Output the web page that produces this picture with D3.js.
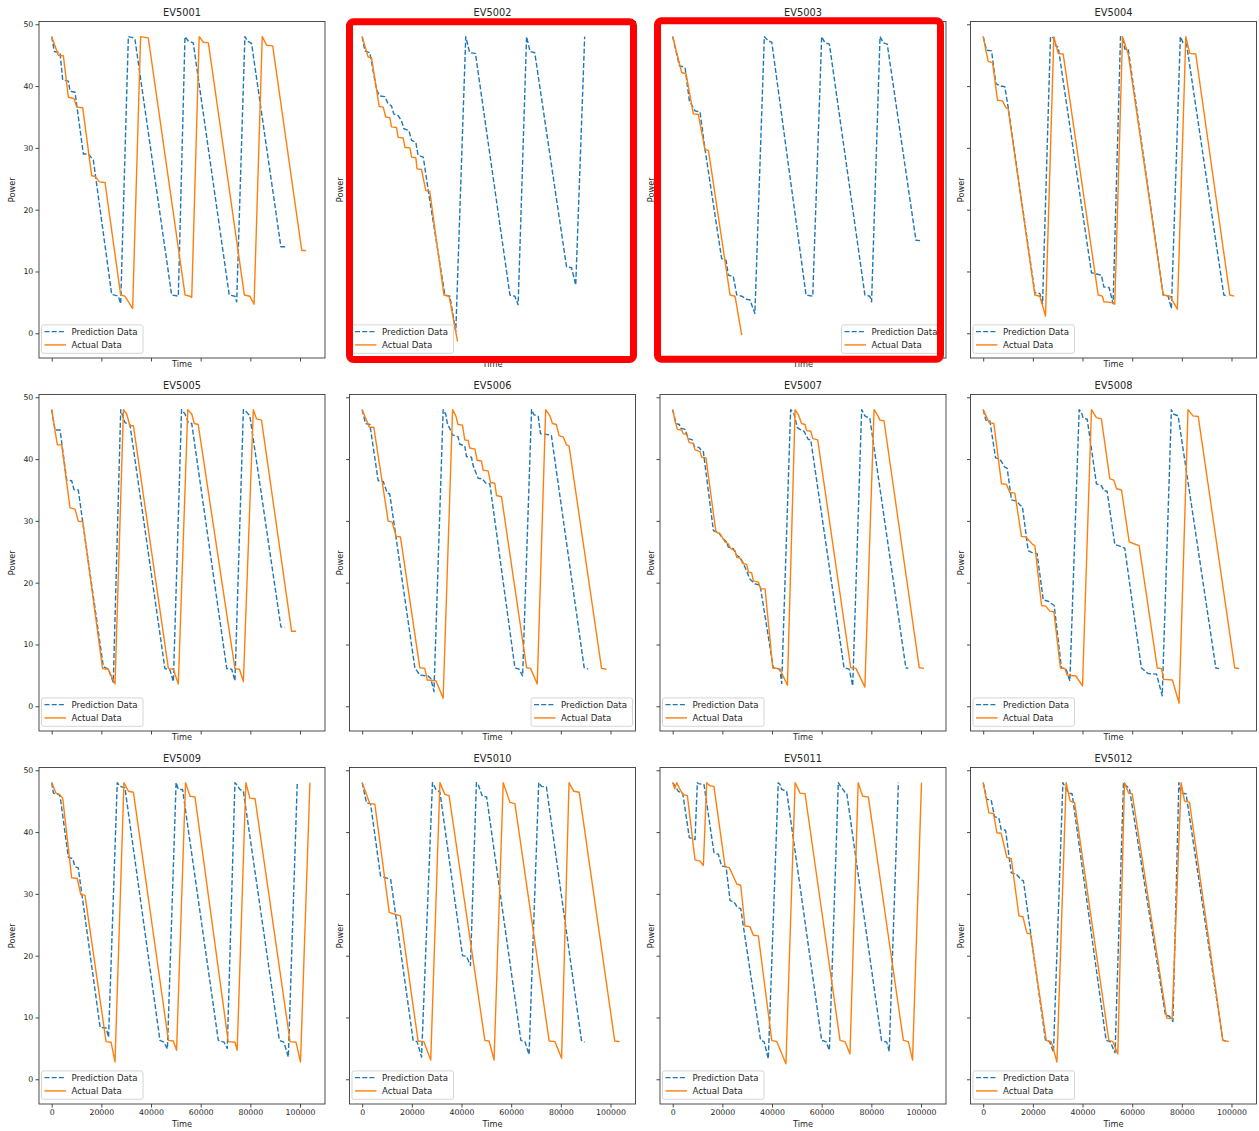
<!DOCTYPE html>
<html><head><meta charset="utf-8">
<script src="https://cdn.jsdelivr.net/npm/d3@7"></script>
<style>
body{margin:0;background:#fff}
svg{display:block}
text{font-family:"DejaVu Sans",sans-serif;fill:#262626}
</style>
</head><body>
<svg id="chart" width="1259" height="1131"></svg>
<script>
// ---------------- data ----------------
const vehicleIds = ["EV5001","EV5002","EV5003","EV5004","EV5005","EV5006","EV5007","EV5008","EV5009","EV5010","EV5011","EV5012"];
const xTicks = [0,20000,40000,60000,80000,100000];
const yTicks = [0,10,20,30,40,50];
const seriesNames = ["Prediction Data","Actual Data"];
const highlighted = ["EV5002","EV5003"];
const legendRight = ["EV5003","EV5006"];

// [time, power]
const pred5001 = [[0,48],[1070,45.6],[3360,45.4],[4430,41.0],[6710,40.8],[7380,39.2],[9390,39.0],[12750,29.0],[14760,29.0],[16780,28.0],[24160,6.3],[26840,6.0],[27780,4.8],[30870,48],[32880,47.8],[33550,47.5],[48310,6.2],[51000,6.0],[53680,48],[55000,47.3],[57000,47.0],[71500,6.2],[73800,6.0],[74500,5.1],[77800,48],[78800,47.3],[80500,46.9],[92300,14.0],[94300,14.0]];
const act5001 = [[0,48],[2680,45.0],[4700,44.9],[6710,38.2],[9000,38.0],[10070,36.6],[12480,36.5],[16100,25.5],[17450,25.4],[19190,24.5],[21470,24.4],[27780,6.2],[29500,6.0],[32600,4.0],[35800,48],[38900,47.8],[53700,6.2],[55700,6.0],[56400,5.8],[59400,48],[61100,47.1],[63100,47.0],[77600,6.2],[79800,6.0],[81500,4.7],[84800,48],[86600,46.6],[89000,46.5],[100700,13.4],[102400,13.4]];

const pred5002 = [[0,48],[1070,45.7],[3090,45.4],[5770,39.4],[7100,38.4],[9100,38.3],[10500,37.1],[11800,36.8],[12700,35.5],[14500,35.2],[15800,34.4],[16800,33.1],[18800,32.8],[19900,31.2],[21600,30.9],[22500,28.8],[24600,28.5],[26600,23.1],[33300,6.2],[35300,6.0],[37700,0.3],[41700,48],[43300,45.4],[45600,45.3],[59500,6.2],[61500,6.0],[62800,4.6],[66200,48],[67600,45.6],[69500,45.4],[82300,10.75],[84300,10.6],[86000,7.8],[89600,48]];
const act5002 = [[0,48],[2400,44.7],[3760,44.6],[6840,36.7],[8450,36.6],[9500,35.0],[11100,34.9],[11800,33.4],[13800,33.3],[14500,31.7],[16500,31.6],[17200,30.1],[19200,30.0],[19900,28.5],[21600,28.4],[22100,26.6],[23900,26.5],[25600,23.1],[27200,23.0],[32900,6.2],[35000,6.0],[38400,-1.3]];

const pred5003 = [[0,48],[2680,43.3],[4970,43.0],[6710,37.6],[8990,36.0],[11000,35.8],[13000,29.8],[19700,12.1],[21500,11.8],[22400,9.4],[24400,9.2],[25800,6.2],[27800,6.0],[29800,5.5],[31100,5.4],[33100,3.2],[36900,48],[38500,47.3],[39900,47.1],[53700,6.2],[56400,6.0],[60000,48],[61300,47.0],[63100,46.8],[77400,6.2],[79400,6.0],[80100,5.1],[83500,48],[84800,47.0],[86400,46.8],[97960,15.05],[99600,15.0]];
const act5003 = [[0,48],[3620,42.2],[5370,42.0],[8320,35.5],[10330,35.4],[13000,29.7],[14400,29.6],[23100,6.2],[25100,6.0],[27800,-0.3]];

const pred5004 = [[0,48],[1340,45.8],[3360,45.7],[5100,40.4],[6710,40.05],[8720,39.9],[10070,36.5],[20800,6.56],[22800,6.45],[23900,4.8],[27100,48],[28200,47.8],[29300,46.5],[30200,46.3],[43600,9.8],[45600,9.6],[47600,9.4],[48600,7.5],[50700,7.4],[52300,4.8],[55300,48],[56400,47.6],[57000,46.0],[58400,46.0],[72500,6.2],[74500,6.0],[75800,4.0],[79400,48],[80500,47.0],[81900,46.8],[96900,6.2],[98600,6.0]];
const act5004 = [[0,48],[2000,44.0],[3760,43.8],[5770,37.7],[7780,37.6],[9130,36.5],[10070,36.3],[20800,6.2],[22800,6.0],[25100,2.8],[28450,48],[30200,45.3],[32200,45.2],[46300,6.2],[48000,6.0],[48600,5.1],[51700,5.0],[53000,4.7],[56100,48],[58400,45.2],[72500,6.2],[75200,6.0],[78200,3.9],[81600,48],[83200,45.3],[85600,45.2],[99300,6.2],[101100,6.0]];

const pred5005 = [[0,48],[1340,44.7],[3360,44.7],[6040,36.6],[8050,36.5],[8990,35.05],[10700,35.0],[12500,29.8],[20800,6.4],[22800,6.0],[24800,3.9],[27800,48],[29500,45.9],[31500,45.6],[45600,6.1],[47600,5.9],[49000,4.0],[52300,48],[53700,47.3],[55000,45.9],[56400,45.75],[70500,6.1],[72500,6.0],[73800,4.1],[77200,48],[78500,47.6],[79800,47.0],[92300,12.85],[93900,12.74]];
const act5005 = [[0,48],[2280,42.3],[4030,42.3],[7380,32.1],[9390,31.9],[10700,29.95],[12500,29.9],[20500,6.1],[22800,6.0],[25500,3.6],[28900,48],[30200,47.3],[31500,45.4],[32900,45.4],[47000,6.1],[49000,6.0],[51000,3.6],[54800,48],[56400,47.3],[57400,45.75],[59000,45.6],[73800,6.1],[75600,6.0],[77200,4.0],[81200,48],[82500,46.5],[84500,46.3],[96600,12.15],[98400,12.15]];

const pred5006 = [[0,48],[1340,45.75],[3090,45.6],[6440,36.5],[8450,36.4],[10070,34.5],[11100,34.35],[21200,6.24],[23200,5.05],[26600,4.9],[27600,4.5],[28900,2.4],[32600,48],[33700,47.2],[34200,45.9],[36400,43.9],[38600,43.6],[39300,42.4],[41300,42.15],[42000,40.4],[44000,40.3],[44700,38.9],[46700,36.9],[48400,36.8],[49800,36.1],[51400,36.0],[61500,6.24],[63200,6.0],[64600,4.9],[68200,48],[69100,47.2],[70900,46.9],[71800,44.1],[74200,44.0],[76200,43.8],[89400,6.24],[91000,6.0]];
const act5006 = [[0,48],[2820,45.2],[4700,45.1],[10470,29.95],[12100,29.8],[13600,27.5],[15400,27.4],[23200,6.24],[25200,6.13],[26200,4.25],[29700,4.14],[32600,1.3],[36400,48],[37700,47.0],[38600,45.6],[40400,45.5],[41300,43.1],[42700,43.0],[43300,41.8],[45400,41.6],[46300,39.8],[48000,39.7],[48700,38.2],[50700,38.1],[51700,36.2],[53400,36.1],[54100,34.1],[56100,33.9],[66200,6.24],[67800,6.13],[70500,3.6],[73900,48],[75600,47.0],[76600,45.75],[78200,45.6],[79300,43.8],[80900,43.6],[82300,42.3],[83300,42.15],[96400,6.13],[98400,6.0]];

const pred5007 = [[0,48],[1340,45.75],[2680,45.6],[3220,45.0],[4970,44.8],[6300,43.3],[7920,43.1],[8720,42.0],[10600,41.9],[11700,41.3],[12350,41.2],[16400,28.4],[18400,28.2],[19700,27.4],[21700,26.6],[22400,25.75],[24400,25.5],[25800,24.4],[27100,24.1],[28500,23.1],[31100,20.6],[33100,19.8],[35200,19.6],[40500,6.24],[43200,6.0],[43900,3.7],[47500,48],[48800,47.4],[50200,45.1],[51300,44.8],[52900,44.5],[54600,43.2],[55600,43.1],[69000,6.24],[71100,6.0],[72500,3.3],[76100,48],[77400,47.0],[79400,46.6],[93900,6.24],[94900,6.13]];
const act5007 = [[0,48],[940,46.2],[1880,44.8],[3620,44.7],[4290,44.1],[5640,44.0],[6580,42.7],[8320,42.5],[8990,41.5],[11000,41.2],[11700,40.3],[13400,40.2],[17400,28.2],[19100,27.9],[21100,26.6],[22400,26.3],[23400,25.5],[25100,25.2],[25800,24.1],[27100,24.0],[28200,23.1],[29800,22.96],[30500,21.7],[31800,21.6],[32500,20.3],[34500,20.1],[35400,19.0],[37200,19.0],[40300,6.24],[41900,6.13],[43200,6.0],[46200,3.4],[49300,48],[50600,47.2],[51900,45.75],[53300,45.6],[53900,44.6],[55600,44.5],[56400,43.3],[58400,43.1],[71700,6.24],[73800,6.13],[77400,3.1],[81100,48],[82400,47.2],[83500,46.3],[85100,46.2],[99300,6.24],[101200,6.13]];

const pred5008 = [[0,48],[1070,46.3],[2680,46.2],[4970,40.2],[6710,40.0],[8720,38.7],[9660,38.5],[11400,33.4],[13400,33.2],[15000,32.5],[15800,32.3],[18100,25.2],[19500,24.9],[21700,24.7],[24200,17.2],[26200,17.0],[28600,16.3],[31500,6.2],[33300,6.1],[34900,4.1],[38650,48],[39600,47.5],[40300,46.6],[41900,46.45],[45600,36.0],[47600,35.7],[48600,34.9],[49900,34.8],[53000,26.2],[55000,25.9],[57000,25.6],[63700,6.2],[66400,5.3],[69800,5.2],[72100,1.7],[75800,48],[76500,47.3],[78500,47.0],[93700,6.2],[95000,6.1]];
const act5008 = [[0,48],[2400,45.9],[4290,45.75],[7380,36.0],[9390,35.9],[10700,34.6],[12750,34.5],[15400,27.5],[17200,27.4],[19900,26.2],[20800,26.0],[23500,16.3],[25200,16.2],[26800,15.4],[28450,15.3],[31100,6.2],[32900,6.1],[33800,5.05],[37300,4.9],[40000,3.3],[43600,48],[45600,46.7],[47600,46.5],[51000,36.8],[52600,36.6],[53700,35.2],[55700,35.0],[58800,26.6],[60700,26.3],[62800,26.0],[70100,6.2],[71800,6.1],[72700,4.35],[76200,4.25],[78900,0.5],[82500,48],[84500,47.0],[86600,46.9],[101300,6.2],[103100,6.1]];

const pred5009 = [[0,48],[670,46.3],[2680,46.1],[3360,45.9],[6710,35.9],[8450,35.7],[9390,34.4],[10700,34.2],[19500,8.4],[21900,8.3],[22900,6.8],[26400,48],[27500,47.4],[29500,47.15],[43600,6.3],[45200,6.0],[46600,4.9],[50100,48],[51000,46.9],[52700,46.9],[67100,6.3],[69400,6.0],[70700,5.0],[73800,48],[74700,47.6],[75800,46.9],[77200,46.6],[91700,6.3],[93500,6.0],[95300,3.6],[98900,48]];
const act5009 = [[0,48],[1740,46.3],[3090,46.1],[4430,45.5],[8050,32.6],[10300,32.5],[11700,29.9],[13400,29.8],[21900,6.1],[23900,6.0],[25500,2.8],[29100,48],[30900,46.6],[32900,46.45],[47000,6.3],[49000,6.2],[50300,4.7],[53900,48],[55700,45.8],[57700,45.7],[71100,6.1],[73800,6.0],[74700,4.7],[78200,48],[79800,45.5],[81900,45.4],[96000,6.1],[98400,6.0],[100200,2.8],[104000,48]];

const pred5010 = [[0,48],[1740,44.7],[3360,44.6],[7380,32.9],[9530,32.6],[11500,32.3],[20500,6.3],[22100,6.1],[23900,3.6],[28300,48],[29700,46.9],[31300,46.45],[40400,20.0],[42000,19.9],[43600,18.4],[46000,48],[46700,47.7],[48400,45.8],[50100,45.7],[63900,6.3],[65500,6.1],[67200,4.0],[71100,48],[72200,47.4],[74200,47.3],[88300,6.3],[89600,6.0]];
const act5010 = [[0,48],[3090,44.6],[5100,44.5],[10900,27.0],[13200,26.7],[15400,26.45],[22500,6.2],[24800,6.1],[27600,3.1],[31300,48],[33300,46.1],[35000,45.9],[49400,6.3],[51100,6.2],[53100,3.1],[56800,48],[59500,44.8],[61500,44.6],[75300,6.2],[77600,6.1],[80300,3.4],[83300,48],[85200,46.6],[87400,46.45],[101700,6.2],[103700,6.1]];

const pred5011 = [[0,48],[2280,46.6],[4030,46.3],[6700,39.1],[8990,38.8],[9930,48],[10300,47.85],[12600,47.7],[16600,36.7],[18400,36.4],[19700,34.5],[21500,34.4],[23100,28.9],[24700,28.7],[26000,27.8],[27400,27.6],[35400,6.3],[36800,6.1],[38500,3.3],[42500,48],[43200,47.7],[43900,46.9],[45900,46.6],[60000,6.3],[61700,6.1],[63100,4.7],[66700,48],[67600,47.4],[69400,46.45],[70100,46.3],[84100,6.3],[86200,6.0],[87200,4.5],[90900,48]];
const act5011 = [[0,48],[800,47.0],[1610,48],[2950,46.9],[4030,46.1],[5900,45.9],[8990,35.5],[11000,35.3],[12350,34.6],[13700,48],[15000,47.5],[16600,47.4],[21100,34.4],[22800,34.25],[25800,31.6],[27400,31.4],[29100,24.8],[31100,24.7],[32500,23.3],[34500,23.2],[39900,6.3],[41900,6.1],[45600,2.5],[49300,48],[51300,46.3],[53300,46.2],[67400,6.3],[69400,6.1],[71400,4.1],[74700,48],[76500,45.8],[78800,45.7],[92900,6.3],[94900,6.1],[96600,3.1],[100200,48]];

const pred5012 = [[0,48],[1480,45.3],[3220,45.2],[4560,42.5],[6300,42.3],[7250,40.4],[8990,40.3],[11300,33.4],[13300,33.2],[15300,32.3],[16200,32.1],[25100,6.3],[26700,6.1],[28300,4.4],[32100,48],[33400,46.9],[34500,46.3],[35800,46.2],[49500,6.3],[51100,6.1],[53100,4.3],[56500,48],[57600,47.5],[58900,47.0],[73400,10.4],[75000,10.2],[76400,9.35],[78800,48],[79700,46.3],[81700,46.2],[96500,6.3],[98500,6.1]];
const act5012 = [[0,48],[2280,43.1],[4160,43.0],[5500,39.9],[7250,39.8],[9530,35.9],[11300,35.7],[14400,26.45],[16000,26.3],[17600,23.65],[19100,23.5],[25400,6.3],[27400,6.1],[29700,2.8],[33400,48],[35000,45.0],[36800,44.8],[50600,6.3],[52200,6.1],[54200,4.1],[56900,48],[58600,46.3],[60000,46.2],[73900,9.9],[76100,9.8],[79700,48],[81100,45.0],[83100,44.8],[96500,6.3],[98900,6.1]];

const predSeries = [pred5001,pred5002,pred5003,pred5004,pred5005,pred5006,pred5007,pred5008,pred5009,pred5010,pred5011,pred5012];
const actSeries  = [act5001,act5002,act5003,act5004,act5005,act5006,act5007,act5008,act5009,act5010,act5011,act5012];

// ---------------- layout ----------------
const svg = d3.select("#chart");
const colLeft = [39, 349.5, 660, 970.5];
const rowTop = [21.5, 394.5, 767.5];
const PW = 286, PH = 336.5;
const BLUE = "#1f77b4", ORANGE = "#ff7f0e";

const x = d3.scaleLinear().domain([-5115, 110070]).range([0, PW]);
const y = d3.scaleLinear().domain([-4.0, 50.45]).range([PH, 0]);
const line = d3.line().x(d => x(d[0])).y(d => y(d[1]));

vehicleIds.forEach((id, i) => {
  const r = Math.floor(i / 4), c = i % 4;
  const g = svg.append("g").attr("transform", `translate(${colLeft[c]},${rowTop[r]})`);
  g.append("rect").attr("width", PW).attr("height", PH).attr("fill", "#fff");

  const clipId = "clip" + i;
  g.append("clipPath").attr("id", clipId).append("rect").attr("width", PW).attr("height", PH);

  // axes
  const xa = d3.axisBottom(x).tickValues(xTicks).tickSize(3.5).tickPadding(2)
    .tickFormat(r === 2 ? d3.format("d") : () => "");
  const gx = g.append("g").attr("transform", `translate(0,${PH})`).call(xa);
  const ya = d3.axisLeft(y).tickValues(yTicks).tickSize(3.5).tickPadding(2.2)
    .tickFormat(c === 0 ? d3.format("d") : () => "");
  const gy = g.append("g").call(ya);
  [gx, gy].forEach(a => {
    a.select(".domain").remove();
    a.selectAll(".tick line").attr("stroke", "#333").attr("stroke-width", 0.9);
    a.selectAll(".tick text").attr("fill", "#262626").style("font-size", "7.8px")
      .style("font-family", "'DejaVu Sans',sans-serif");
  });

  // lines
  const lg = g.append("g").attr("clip-path", `url(#${clipId})`);
  lg.append("path").datum(predSeries[i]).attr("d", line)
    .attr("fill", "none").attr("stroke", BLUE).attr("stroke-width", 1.4)
    .attr("stroke-dasharray", "5,2.2").attr("stroke-linejoin", "round");
  lg.append("path").datum(actSeries[i]).attr("d", line)
    .attr("fill", "none").attr("stroke", ORANGE).attr("stroke-width", 1.4)
    .attr("stroke-linejoin", "round");

  // frame
  g.append("rect").attr("width", PW).attr("height", PH)
    .attr("fill", "none").attr("stroke", "#3a3a3a").attr("stroke-width", 0.9);

  // title and labels
  g.append("text").attr("x", PW / 2).attr("y", -6).attr("text-anchor", "middle")
    .style("font-size", "9.8px").text(id);
  g.append("text").attr("x", PW / 2).attr("y", PH + (r === 2 ? 23.2 : 9.2))
    .attr("text-anchor", "middle").style("font-size", "8.2px").text("Time");
  const yl = c === 0 ? -24.4 : -6.3;
  g.append("text").attr("transform", `translate(${yl},${PH / 2}) rotate(-90)`)
    .attr("text-anchor", "middle").style("font-size", "8.2px").text("Power");

  // legend
  const LW = 101.5, LH = 28.4;
  const lx = legendRight.includes(id) ? PW - 3 - LW : 2.5;
  const ly = PH - 4.7 - LH;
  const leg = g.append("g").attr("transform", `translate(${lx},${ly})`);
  leg.append("rect").attr("width", LW).attr("height", LH).attr("rx", 2)
    .attr("fill", "#fff").attr("fill-opacity", 0.8).attr("stroke", "#cccccc").attr("stroke-width", 0.8);
  seriesNames.forEach((name, k) => {
    const yy = 6.7 + k * 13.3;
    leg.append("line").attr("x1", 3).attr("x2", 24.5).attr("y1", yy).attr("y2", yy)
      .attr("stroke", k === 0 ? BLUE : ORANGE).attr("stroke-width", 1.4)
      .attr("stroke-dasharray", k === 0 ? "5,2.2" : null);
    leg.append("text").attr("x", 30).attr("y", yy + 3.1).style("font-size", "8.6px").text(name);
  });
});

// red highlight boxes
const hlOffsets = {"EV5002": [0, 0.3, -2, 1.5], "EV5003": [-2.5, -0.7, -5.5, 1.2]};
highlighted.forEach(id => {
  const i = vehicleIds.indexOf(id), r = Math.floor(i / 4), c = i % 4;
  const o = hlOffsets[id];
  svg.append("rect")
    .attr("x", colLeft[c] + o[0]).attr("y", rowTop[r] + o[1])
    .attr("width", PW - o[0] + o[2]).attr("height", PH - o[1] + o[3])
    .attr("rx", 4).attr("fill", "none").attr("stroke", "#ff0000").attr("stroke-width", 7);
});
</script>
</body></html>
